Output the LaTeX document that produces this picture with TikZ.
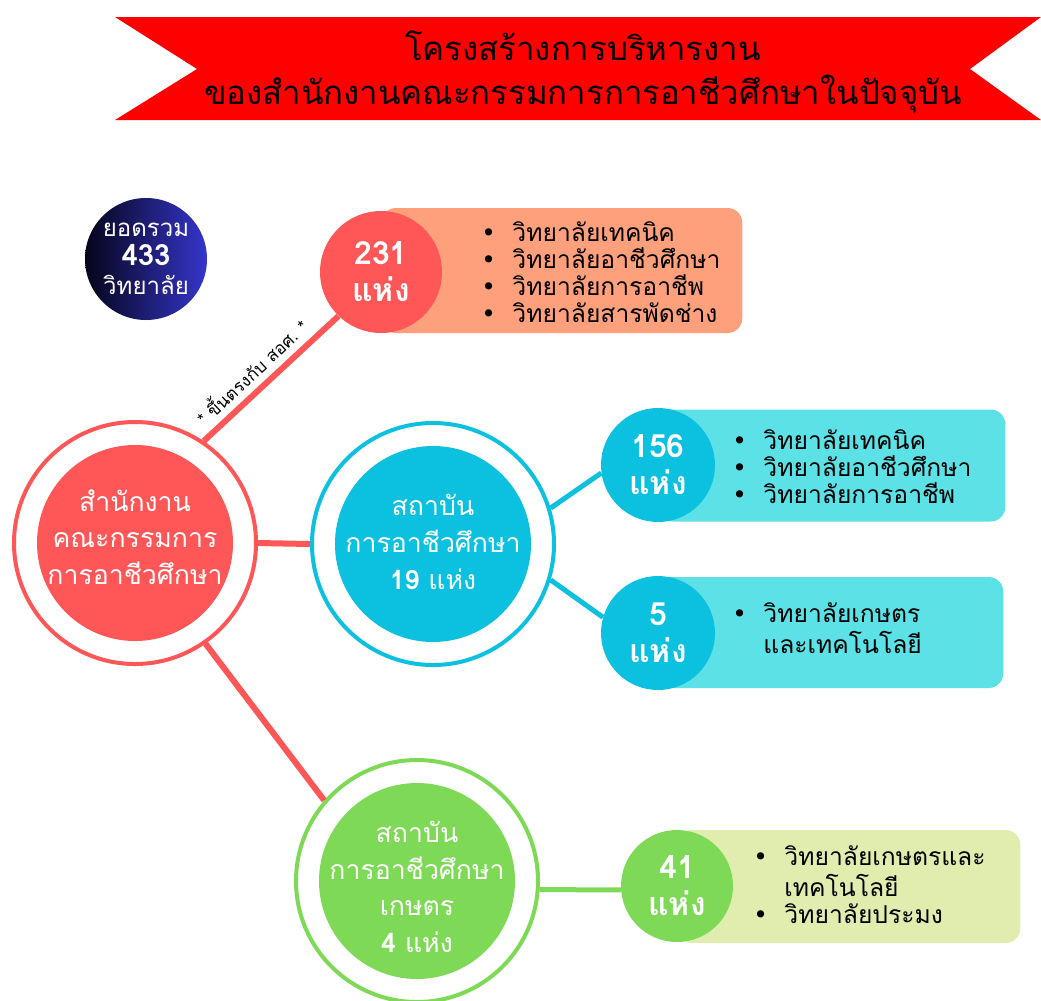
\documentclass[tikz,border=0pt]{standalone}
\usepackage{fontspec}
\setmainfont{Loma}[Script=Thai]
\newfontfamily\dv{DejaVu Sans}
\definecolor{bred}{HTML}{FF0000}
\definecolor{cred}{HTML}{FF5757}
\definecolor{salmon}{HTML}{FFA07C}
\definecolor{ccyan}{HTML}{0CC0DF}
\definecolor{lcyan}{HTML}{5CE1E6}
\definecolor{cgreen}{HTML}{7ED957}
\definecolor{lgreen}{HTML}{E0EDAF}
\definecolor{navyL}{HTML}{05051A}
\definecolor{navyR}{HTML}{3535CC}
\newcommand{\bul}{{\dv •}}
\tikzset{
  ring/.style={circle, draw=#1, line width=3pt, fill=white, minimum size=181.5pt, inner sep=0pt},
  inner/.style={circle, fill=#1, minimum size=147pt, inner sep=0pt},
  ctext/.style={inner sep=0pt, text=white, align=center, font=\fontsize{20}{27.5}\selectfont},
  small/.style={circle, fill=#1, minimum size=85.5pt, inner sep=0pt, text=white, align=center,
    font=\bfseries\fontsize{24}{27.75}\selectfont},
  box/.style={rounded corners=11pt, fill=#1, inner sep=0pt},
  list/.style={anchor=west, inner sep=0pt, align=left, text=black},
  conn/.style={line width=#1, line cap=butt},
}
\begin{document}
\begin{tikzpicture}[x=0.75pt,y=-0.75pt]
\useasboundingbox (0,0) rectangle (1041,1000);
% banner
\fill[bred] (115,17) -- (1041,17) -- (970,69) -- (1041,120) -- (115,120) -- (197,69) -- cycle;
\node[align=center, font=\fontsize{24.7}{33}\selectfont, text=black] (title) at (583,72)
  {โครงสร้างการบริหารงาน\\ของสำนักงานคณะกรรมการการอาชีวศึกษาในปัจจุบัน};
% total circle
\node[circle, minimum size=91.5pt, inner sep=0pt, left color=navyL, right color=navyR,
  text=white, align=center, font=\fontsize{18}{21.75}\selectfont] (total) at (146,259)
  {ยอดรวม\\{\bfseries\fontsize{22}{21.75}\selectfont 433}\\วิทยาลัย};
% main
\node[ring=cred] (main) at (135,543) {};
\node[inner=cred] (mainin) at (135,543) {};
\node[ctext] (maintxt) at (135,537) {สำนักงาน\\คณะกรรมการ\\การอาชีวศึกษา};
% middle
\node[ring=ccyan] (mid) at (433,544) {};
\node[inner=ccyan] (midin) at (433,544) {};
\node[ctext] (midtxt) at (433,542) {สถาบัน\\การอาชีวศึกษา\\{\bfseries 19} แห่ง};
% bottom
\node[ring=cgreen] (bot) at (417,881) {};
\node[inner=cgreen] (botin) at (417,881) {};
\node[ctext] (bottxt) at (417,887) {สถาบัน\\การอาชีวศึกษา\\เกษตร\\{\bfseries 4} แห่ง};
% boxes
\node[box=salmon, minimum width=270.75pt, minimum height=93.75pt, anchor=west] (b231) at (381,270.5) {};
\node[box=lcyan, minimum width=260.25pt, minimum height=84pt, anchor=west] (b156) at (658,465.5) {};
\node[box=lcyan, minimum width=258.75pt, minimum height=83.25pt, anchor=west] (b5) at (658,632.5) {};
\node[box=lgreen, minimum width=257.25pt, minimum height=84.75pt, anchor=west] (b41) at (677,886.5) {};
% small circles
\node[small=cred, minimum size=91.5pt] (c231) at (381,272) {231\\แห่ง};
\node[small=ccyan] (c156) at (658,465) {156\\แห่ง};
\node[small=ccyan] (c5) at (658,633) {5\\แห่ง};
\node[small=cgreen, minimum size=84pt] (c41) at (677,886) {41\\แห่ง};
% lists
\node[list, font=\fontsize{18.5}{20.25}\selectfont] (l231) at (481,272)
  {\bul\ \ วิทยาลัยเทคนิค\\\bul\ \ วิทยาลัยอาชีวศึกษา\\\bul\ \ วิทยาลัยการอาชีพ\\\bul\ \ วิทยาลัยสารพัดช่าง};
\node[list, font=\fontsize{18.5}{20.25}\selectfont] (l156) at (732,467)
  {\bul\ \ วิทยาลัยเทคนิค\\\bul\ \ วิทยาลัยอาชีวศึกษา\\\bul\ \ วิทยาลัยการอาชีพ};
\node[list, font=\fontsize{18.5}{23.25}\selectfont] (l5) at (732,632)
  {\begin{tabular}{@{}l@{\ \ }l@{}}\bul & วิทยาลัยเกษตร\\ & และเทคโนโลยี\end{tabular}};
\node[list, font=\fontsize{18.5}{20.25}\selectfont] (l41) at (753,889)
  {\begin{tabular}{@{}l@{\ \ }l@{}}\bul & วิทยาลัยเกษตรและ\\ & เทคโนโลยี\\ \bul & วิทยาลัยประมง\end{tabular}};
% connectors
\draw[cred, conn=4.5pt] (main.56) -- (c231.226);
\draw[cred, conn=4.5pt] (main.0) -- (mid.180);
\draw[cred, conn=4.5pt] (main.-55) -- (bot.139);
\draw[ccyan, conn=3.75pt] (mid.17) -- (c156.188);
\draw[ccyan, conn=3.75pt] (mid.-17) -- (c5.164);
\draw[cgreen, conn=3.75pt] (bot.-4) -- (c41.184);
% note
\node[rotate=43, font=\fontsize{13}{14}\selectfont, inner sep=0pt] (note) at (251,371) {* ขึ้นตรงกับ สอศ. *};
\end{tikzpicture}
\end{document}
